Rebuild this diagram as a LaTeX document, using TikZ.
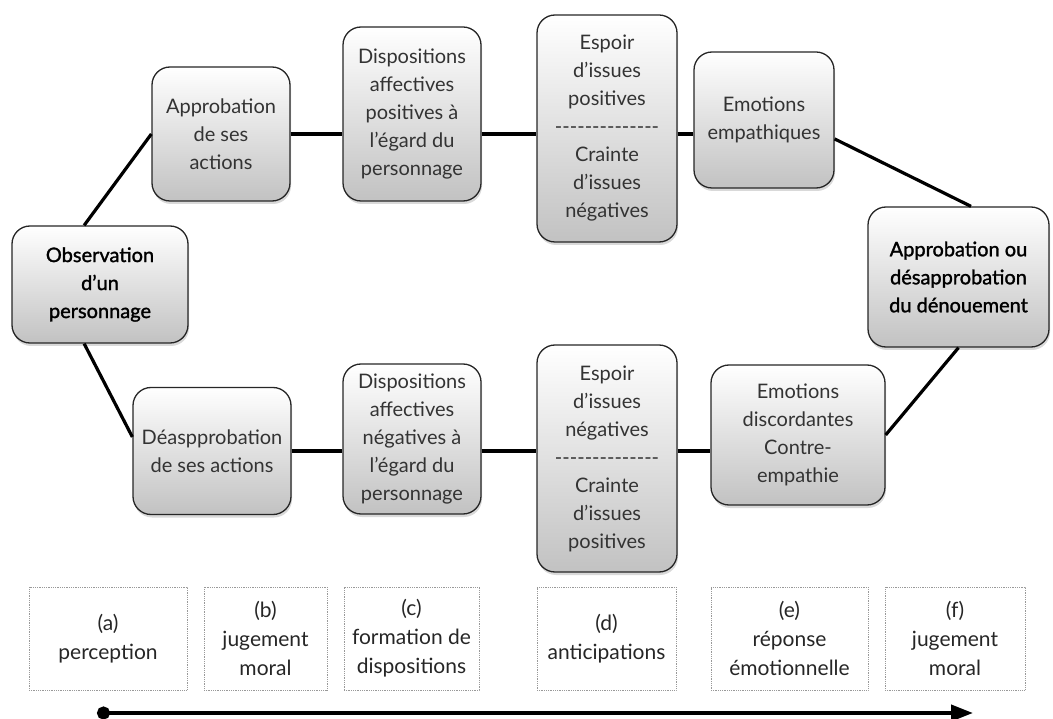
\documentclass[tikz,border=0pt]{standalone}
\usepackage{fontspec}
\setmainfont{Lato}
\newfontfamily\keyfont{Lato}[FakeBold=1.4]
\usetikzlibrary{arrows.meta,shadows}
\tikzset{
  stage/.style={draw=black!85, line width=1.3pt, rounded corners=18pt, top color=white, bottom color=black!24,
    align=center, text=black!80, font=\fontsize{20}{28}\selectfont, inner sep=0pt,
    drop shadow={opacity=0.3, shadow xshift=1pt, shadow yshift=-3pt}},
  keystage/.style={stage, text=black, font=\fontsize{20}{28}\selectfont\keyfont},
  phase/.style={draw=black!40, densely dotted, line width=0.8pt, align=center, text=black!85,
    font=\fontsize{21}{29}\selectfont, inner sep=0pt, minimum height=103pt},
  link/.style={line width=3.2pt, black},
}
\newcommand{\dashrow}{-{}-{}-{}-{}-{}-{}-{}-{}-{}-{}-{}-{}-{}-}
\begin{document}
\begin{tikzpicture}[x=1pt, y=-1pt]
\useasboundingbox (0,0) rectangle (1053,719);
% stages
\node[keystage, minimum width=176pt, minimum height=117pt] (obs) at (100,284.5) {Observation\\d’un\\personnage};
\node[stage, minimum width=138pt, minimum height=134pt] (appr) at (221,134) {Approbation\\de ses\\actions};
\node[stage, minimum width=138pt, minimum height=174pt] (dispp) at (412,114) {Dispositions\\affectives\\positives à\\l’égard du\\personnage};
\node[stage, minimum width=140pt, minimum height=227pt] (espp) at (607,128.5) {Espoir\\d’issues\\positives\\\dashrow\\Crainte\\d’issues\\négatives};
\node[stage, minimum width=140pt, minimum height=136pt] (emoe) at (764,120) {Emotions\\empathiques};
\node[keystage, minimum width=181pt, minimum height=140pt] (final) at (958.5,277) {Approbation ou\\désapprobation\\du dénouement};
\node[stage, minimum width=158pt, minimum height=127pt] (desap) at (212,451) {Déaspprobation\\de ses actions};
\node[stage, minimum width=138pt, minimum height=150pt] (dispn) at (412,439) {Dispositions\\affectives\\négatives à\\l’égard du\\personnage};
\node[stage, minimum width=140pt, minimum height=227pt] (espn) at (607,458.5) {Espoir\\d’issues\\négatives\\\dashrow\\Crainte\\d’issues\\positives};
\node[stage, minimum width=174pt, minimum height=140pt] (emod) at (798,435) {Emotions\\discordantes\\Contre-\\empathie};
% links
\draw[link] (obs.105) -- (appr.west); \draw[link] (obs.255) -- (desap.170);
\draw[link] (appr.east) -- (appr.east -| dispp.west); \draw[link] (dispp.east |- appr.east) -- (appr.east -| espp.west); \draw[link] (espp.east |- appr.east) -- (appr.east -| emoe.west);
\draw[link] (desap.east) -- (desap.east -| dispn.west); \draw[link] (dispn.east |- desap.east) -- (desap.east -| espn.west); \draw[link] (espn.east |- desap.east) -- (desap.east -| emod.west);
\draw[link] (emoe.-15) -- (final.80); \draw[link] (emod.east) -- (final.south);
% phases
\node[phase, minimum width=158pt] (pa) at (108,638.5) {(a)\\perception};
\node[phase, minimum width=123pt] (pb) at (265.5,638.5) {(b)\\jugement\\moral};
\node[phase, minimum width=135pt] (pc) at (411.5,638.5) {(c)\\formation de\\dispositions};
\node[phase, minimum width=139pt] (pd) at (606.5,638.5) {(d)\\anticipations};
\node[phase, minimum width=157pt] (pe) at (789.5,638.5) {(e)\\réponse\\émotionnelle};
\node[phase, minimum width=140pt] (pf) at (955,638.5) {(f)\\jugement\\moral};
% time axis
\coordinate (tstart) at (97,713); \coordinate (tend) at (973,713);
\draw[line width=4pt, {Circle[length=13pt]}-{Triangle[length=22pt, width=16pt]}] (tstart) -- (tend);
\end{tikzpicture}
\end{document}
